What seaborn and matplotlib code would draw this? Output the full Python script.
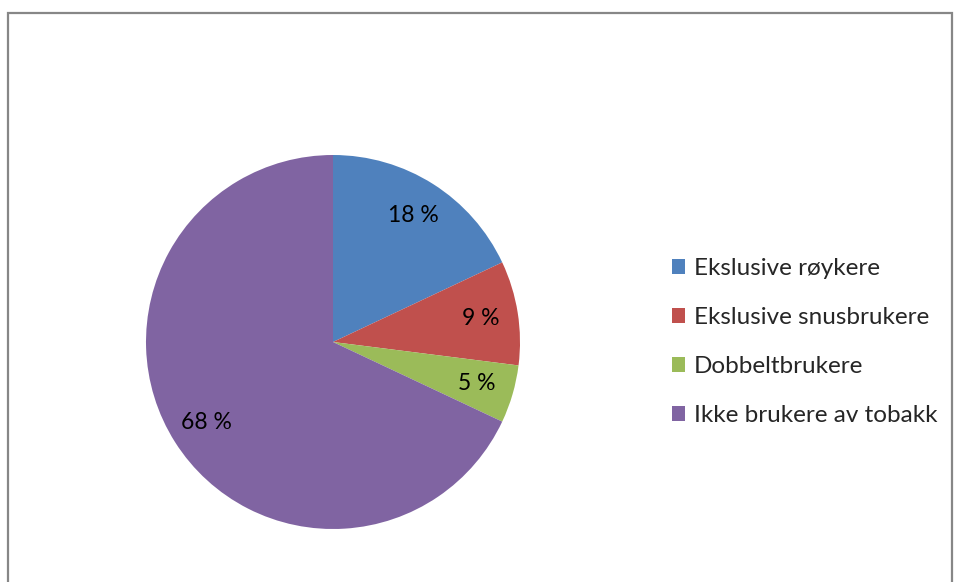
import matplotlib
matplotlib.use("Agg")
import matplotlib.pyplot as plt
import seaborn as sns
from matplotlib.patches import Patch, Rectangle

# data
categories = ["Ekslusive røykere", "Ekslusive snusbrukere", "Dobbeltbrukere", "Ikke brukere av tobakk"]
shares = [18, 9, 5, 68]
colors = ["#4F81BD", "#C0504D", "#9BBB59", "#8064A2"]

sns.set_theme(style="white")
plt.rcParams['font.family'] = ['Lato', 'DejaVu Sans']

W, H = 955, 582
fig = plt.figure(figsize=(W / 100, H / 100), dpi=100)
fig.patch.set_facecolor("white")

# pie axes: centre (333, 342), radius 187 px
cx, cy, r = 333, 342, 187
ax = fig.add_axes([(cx - r) / W, (H - cy - r) / H, 2 * r / W, 2 * r / H])
pal = sns.color_palette(colors)
wedges, texts, autotexts = ax.pie(
    shares, colors=pal, startangle=90, counterclock=False,
    autopct=lambda p: f"{p:.0f} %", pctdistance=0.8,
    wedgeprops=dict(linewidth=0),
    textprops=dict(fontsize=16.5, color="black"))
ax.set_xlim(-1, 1)
ax.set_ylim(-1, 1)
ax.set_aspect("equal")
ax.axis("off")

handles = [Patch(facecolor=c, edgecolor="none") for c in pal]
fig.legend(handles, categories, loc="center left",
           bbox_to_anchor=(672 / W, 1 - 342 / H),
           frameon=False, fontsize=17.5, borderpad=0, borderaxespad=0,
           handlelength=0.55, handleheight=0.55, handletextpad=0.35,
           labelspacing=1.15)

# chart frame
fig.add_artist(Rectangle((7.5 / W, -0.05), (952 - 7.5) / W, 1.05 - 13 / H,
                         transform=fig.transFigure, fill=False,
                         edgecolor="#878787", linewidth=1.6))

fig.savefig("out.png", dpi=100)
